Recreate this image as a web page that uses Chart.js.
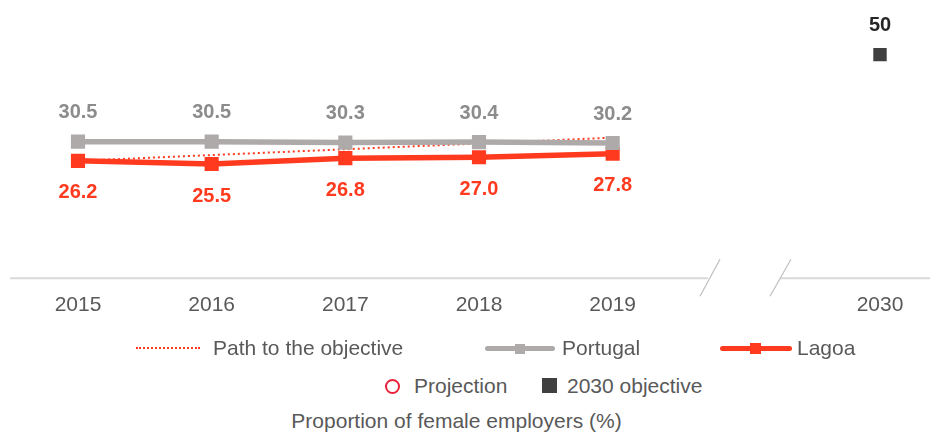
<!DOCTYPE html>
<html>
<head>
<meta charset="utf-8">
<script src="https://cdn.jsdelivr.net/npm/chart.js@4"></script>
<style>
  body { margin: 0; background: #fff; font-family: "Liberation Sans", Arial, sans-serif; }
  #wrap { position: relative; width: 933px; height: 434px; }
  #chart { position: absolute; left: 0; top: 0; }
  .lg { position: absolute; font-size: 21px; line-height: 24px; color: #595959; white-space: nowrap; }
  .ln { position: absolute; border-radius: 3px; }
  .mk { position: absolute; }
</style>
</head>
<body>
<div id="wrap">
  <canvas id="chart" width="933" height="337"></canvas>

  <!-- legend row 1 -->
  <div class="ln" style="left:136px;top:347px;width:64px;border-top:2px dotted #ff3a1f;border-radius:0;"></div>
  <div class="lg" style="left:213px;top:336px;">Path to the objective</div>
  <div class="ln" style="left:485px;top:346px;width:70px;height:5px;background:#afaaaa;"></div>
  <div class="mk" style="left:515px;top:344px;width:10px;height:10px;background:#afaaaa;"></div>
  <div class="lg" style="left:562px;top:336px;">Portugal</div>
  <div class="ln" style="left:720px;top:346px;width:72px;height:5px;background:#ff3a1f;"></div>
  <div class="mk" style="left:750px;top:343px;width:11px;height:11px;background:#ff3a1f;"></div>
  <div class="lg" style="left:797px;top:336px;">Lagoa</div>

  <!-- legend row 2 -->
  <div class="mk" style="left:385px;top:379px;width:11px;height:11px;border:2.5px solid #e8233a;border-radius:50%;"></div>
  <div class="lg" style="left:414px;top:374px;">Projection</div>
  <div class="mk" style="left:542px;top:378px;width:15px;height:15px;background:#404040;"></div>
  <div class="lg" style="left:567px;top:374px;">2030 objective</div>

  <div class="lg" style="left:0;width:913px;text-align:center;top:409px;">Proportion of female employers (%)</div>
</div>
<script>
const years = ["2015", "2016", "2017", "2018", "2019", "", "2030"];
const portugal = [30.5, 30.5, 30.3, 30.4, 30.2, null, null];
const lagoa = [26.2, 25.5, 26.8, 27.0, 27.8, null, null];
const pathToObjective = [26.2, 27.5, 28.8, 30.1, 31.4, null, null];
const projection = [null, null, null, null, null, null, null];
const objective2030 = [null, null, null, null, null, null, 50];

// x axis drawn by hand so it can have the break between 2019 and 2030
const axisBreak = {
  id: "axisBreak",
  beforeDatasetsDraw(chart) {
    const { ctx, chartArea } = chart;
    const y = chartArea.bottom + 0.5;
    ctx.save();
    ctx.strokeStyle = "#d9d9d9";
    ctx.lineWidth = 2;
    ctx.beginPath();
    ctx.moveTo(10, y); ctx.lineTo(708, y);
    ctx.moveTo(780, y); ctx.lineTo(930, y);
    ctx.stroke();
    ctx.strokeStyle = "#bfbfbf";
    ctx.lineWidth = 1.2;
    ctx.beginPath();
    ctx.moveTo(700, y + 18); ctx.lineTo(720, y - 19);
    ctx.moveTo(770, y + 18); ctx.lineTo(791, y - 19);
    ctx.stroke();
    ctx.restore();
  }
};

// value labels above / below the points
const valueLabels = {
  id: "valueLabels",
  afterDatasetsDraw(chart) {
    const { ctx } = chart;
    ctx.save();
    ctx.font = "bold 20px 'Liberation Sans', Arial, sans-serif";
    ctx.textAlign = "center";
    ctx.textBaseline = "middle";
    chart.data.datasets.forEach((ds, i) => {
      if (!ds.labelPos) return;
      const meta = chart.getDatasetMeta(i);
      meta.data.forEach((pt, j) => {
        const v = ds.data[j];
        if (v == null) return;
        ctx.fillStyle = ds.labelColor;
        const dy = ds.labelPos === "top" ? -29 : 32;
        ctx.fillText(ds.labelFmt ? v.toFixed(1) : String(v), pt.x, pt.y + dy);
      });
    });
    ctx.restore();
  }
};

new Chart(document.getElementById("chart"), {
  type: "line",
  data: {
    labels: years,
    datasets: [
      { label: "2030 objective", data: objective2030, showLine: false, pointStyle: "rect", pointRadius: 9.5, pointBackgroundColor: "#404040", pointBorderWidth: 0,
        labelPos: "top", labelColor: "#262626" },
      { label: "Portugal", data: portugal, borderColor: "#afaaaa", borderWidth: 5.5, pointStyle: "rect", pointRadius: 10, pointBackgroundColor: "#afaaaa", pointBorderWidth: 0,
        labelPos: "top", labelColor: "#8c8c8c", labelFmt: true },
      { label: "Path to the objective", data: pathToObjective, borderColor: "#ff3a1f", borderWidth: 2, borderDash: [2, 3], pointRadius: 0 },
      { label: "Lagoa", data: lagoa, borderColor: "#ff3a1f", borderWidth: 5.5, pointStyle: "rect", pointRadius: 10, pointBackgroundColor: "#ff3a1f", pointBorderWidth: 0,
        labelPos: "bottom", labelColor: "#ff3a1f", labelFmt: true },
      { label: "Projection", data: projection, borderColor: "#e8233a", pointStyle: "circle", pointBackgroundColor: "#fff", showLine: false }
    ]
  },
  options: {
    responsive: false,
    animation: false,
    spanGaps: false,
    layout: { padding: { left: 78, right: 53, top: 7, bottom: 4 } },
    plugins: { legend: { display: false }, tooltip: { enabled: false } },
    scales: {
      x: {
        offset: false,
        grid: { display: false, drawTicks: false },
        border: { display: false },
        ticks: { color: "#595959", font: { size: 21, family: "'Liberation Sans', Arial, sans-serif" }, padding: 15, autoSkip: false, maxRotation: 0 }
      },
      y: { display: false, min: 0, max: 60 }
    }
  },
  plugins: [axisBreak, valueLabels]
});
</script>
</body>
</html>
